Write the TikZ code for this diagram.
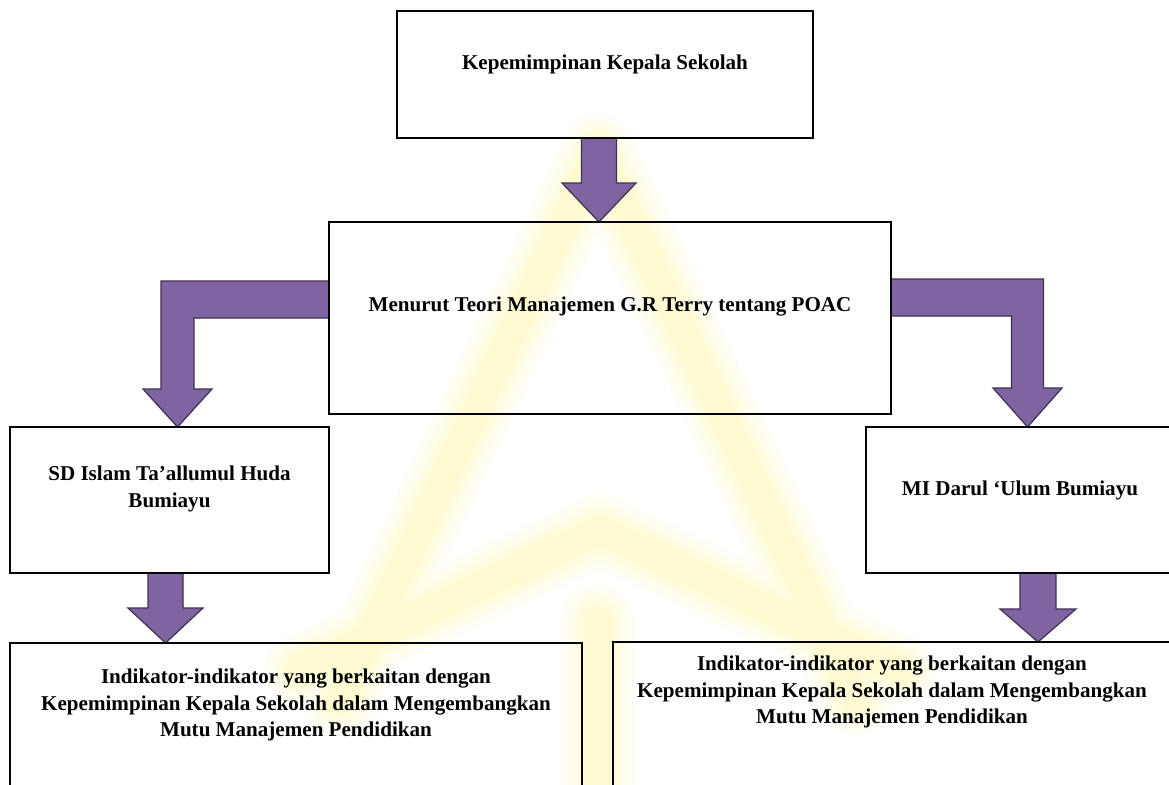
\documentclass[tikz,border=0pt]{standalone}
\usepackage{fontspec}
\setmainfont{Liberation Serif}
\usetikzlibrary{calc,backgrounds}
\definecolor{ungu}{RGB}{128,100,162}
\definecolor{ungutua}{RGB}{63,49,81}
\definecolor{kuning}{RGB}{255,236,40}
\newdimen\px \px=0.02cm

\tikzset{
  kotak/.style={draw=black, line width=1.3pt, rectangle, anchor=north west, inner sep=0pt, outer sep=0pt},
  teks/.style={font=\fontsize{12}{15}\selectfont\bfseries, align=center, inner sep=0pt},
  blok/.style={fill=ungu, draw=ungutua, line width=0.7pt, line join=miter},
}

% straight block arrow: start, tip, shaft half, head half, head length
\newcommand\panahlurus[5]{%
  \path[blok] ($(#1)+(-#3,0)$) -- ($(#2)+(-#3,-#5)$) -- ($(#2)+(-#4,-#5)$) -- (#2)
    -- ($(#2)+(#4,-#5)$) -- ($(#2)+(#3,-#5)$) -- ($(#1)+(#3,0)$) -- cycle;}

% elbow block arrow: start, tip, horizontal half, vertical half, head half, head length, side
\newcommand\panahsiku[7]{%
  \coordinate (sudut) at (#1 -| #2);
  \path[blok] ($(#1)+(0,-#3)$) -- ($(sudut)+({(#7)*(#4)},-#3)$) -- ($(#2)+({(#7)*(#4)},-#6)$)
    -- ($(#2)+({(#7)*(#5)},-#6)$) -- (#2) -- ($(#2)+({-(#7)*(#5)},-#6)$)
    -- ($(#2)+({-(#7)*(#4)},-#6)$) -- ($(sudut)+({-(#7)*(#4)},#3)$) -- ($(#1)+(0,#3)$) -- cycle;}

\begin{document}
\begin{tikzpicture}[x=0.02cm, y=-0.02cm]
  \useasboundingbox (0,0) rectangle (1169,784);

  % boxes
  \node[kotak, minimum width=416\px, minimum height=127\px] (k1) at (397,11) {};
  \node[kotak, minimum width=562\px, minimum height=192\px] (k2) at (329,222) {};
  \node[kotak, minimum width=319\px, minimum height=146\px] (k3) at (10,427) {};
  \node[kotak, minimum width=308\px, minimum height=146\px] (k4) at (866,427) {};
  \node[kotak, minimum width=572\px, minimum height=220\px] (k5) at (10,643) {};
  \node[kotak, minimum width=558\px, minimum height=220\px] (k6) at (613,642) {};

  % texts
  \node[teks] (t1) at ($(k1.north)+(0,53)$) {Kepemimpinan Kepala Sekolah};
  \node[teks] (t2) at ($(k2.north)+(0,85)$) {Menurut Teori Manajemen G.R Terry tentang POAC};
  \node[teks] (t3) at ($(k3.north)+(0,62)$) {SD Islam Ta’allumul Huda\\Bumiayu};
  \node[teks] (t4) at ($(k4.north)+(0,63)$) {MI Darul ‘Ulum Bumiayu};
  \node[teks] (t5) at ($(k5.north)+(0,62)$) {Indikator-indikator yang berkaitan dengan\\Kepemimpinan Kepala Sekolah dalam Mengembangkan\\Mutu Manajemen Pendidikan};
  \node[teks] (t6) at ($(k6.north)+(0,50)$) {Indikator-indikator yang berkaitan dengan\\Kepemimpinan Kepala Sekolah dalam Mengembangkan\\Mutu Manajemen Pendidikan};

  \begin{scope}[on background layer]
    \fill[white] (0,0) rectangle (1169,784);
    % faint watermark, soft edges
    \foreach \w/\o in {72/0.04, 58/0.05, 44/0.06, 30/0.07}{
      \draw[kuning, opacity=\o, line width=\w\px, line cap=round, line join=round]
        (340,700) -- (598,150) -- (856,700)
        (300,670) -- (600,530) -- (900,670)
        (598,620) -- (598,800);
    }

    % arrows
    \coordinate (a1) at ($(k1.south)+(-6,0)$);
    \coordinate (b1) at (a1 |- k2.north);
    \panahlurus{a1}{b1}{17.5}{37}{39}

    \coordinate (sL) at ($(k2.west)+(0,-18.5)$);
    \coordinate (eL) at ($(k3.north)+(8,0)$);
    \panahsiku{sL}{eL}{18.5}{16.5}{34.5}{38}{-1}

    \coordinate (sR) at ($(k2.east)+(0,-20.5)$);
    \coordinate (eR) at ($(k4.north)+(7.5,0)$);
    \panahsiku{sR}{eR}{18.5}{16}{34.5}{39}{1}

    \coordinate (a3) at ($(k3.south)+(-4,0)$);
    \coordinate (b3) at (a3 |- k5.north);
    \panahlurus{a3}{b3}{17.5}{37.5}{35}

    \coordinate (a4) at ($(k4.south)+(18,0)$);
    \coordinate (b4) at (a4 |- k6.north);
    \panahlurus{a4}{b4}{18}{38}{33}
  \end{scope}
\end{tikzpicture}
\end{document}
